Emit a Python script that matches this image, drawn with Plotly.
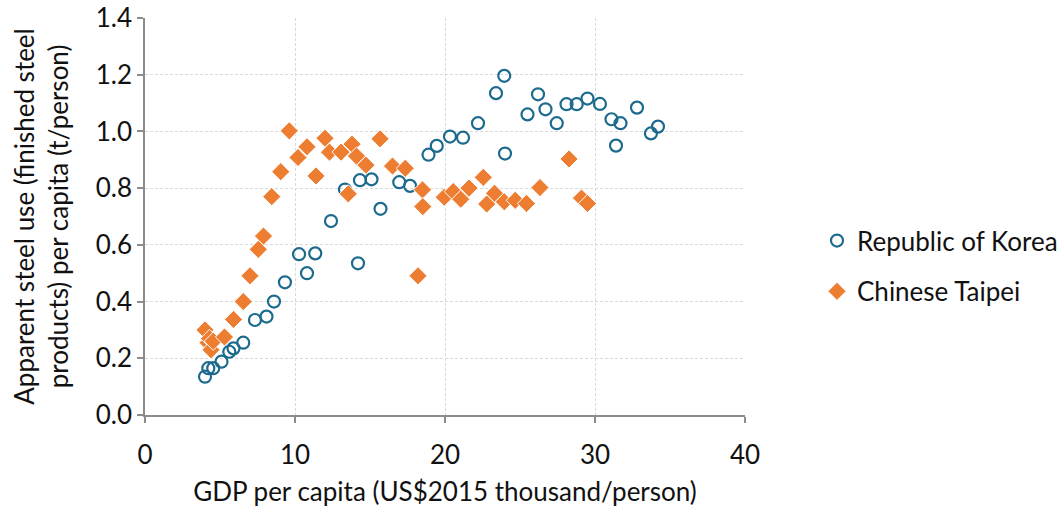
import plotly.graph_objects as go

# GDP per capita (US$2015 thousand/person) vs apparent steel use per capita (t/person)
korea_gdp = [4.0, 4.22, 4.55, 5.1, 5.62, 5.9, 6.55, 7.33, 8.1, 8.6, 9.33, 10.27, 10.8,
             11.35, 12.4, 13.33, 14.2, 14.33, 15.1, 15.7, 16.95, 17.67, 18.9, 19.45,
             20.33, 21.2, 22.2, 23.4, 23.95, 24.0, 25.5, 26.2, 26.7, 27.45, 28.1, 28.78,
             29.5, 30.33, 31.1, 31.4, 31.7, 32.8, 33.73, 34.2]
korea_steel = [0.135, 0.165, 0.165, 0.188, 0.223, 0.235, 0.255, 0.335, 0.347, 0.40, 0.468,
               0.567, 0.50, 0.57, 0.684, 0.795, 0.535, 0.828, 0.831, 0.727, 0.821, 0.808,
               0.918, 0.949, 0.982, 0.978, 1.029, 1.135, 1.196, 0.922, 1.06, 1.131, 1.078,
               1.029, 1.096, 1.096, 1.116, 1.097, 1.043, 0.95, 1.029, 1.084, 0.993, 1.017]

taipei_gdp = [4.0, 4.2, 4.3, 4.4, 4.55, 5.3, 5.9, 6.55, 7.0, 7.55, 7.9, 8.45, 9.05, 9.62,
              10.2, 10.8, 11.4, 12.0, 12.3, 13.07, 13.55, 13.8, 14.1, 14.73, 15.67, 16.5,
              17.35, 18.2, 18.5, 18.52, 19.95, 20.55, 21.05, 21.6, 22.55, 22.78, 23.3,
              23.95, 24.68, 25.43, 26.33, 28.27, 29.1, 29.5]
taipei_steel = [0.30, 0.255, 0.27, 0.23, 0.26, 0.275, 0.337, 0.40, 0.491, 0.584, 0.631, 0.77,
                0.858, 1.002, 0.908, 0.946, 0.843, 0.976, 0.927, 0.927, 0.78, 0.955, 0.913,
                0.881, 0.974, 0.878, 0.87, 0.491, 0.794, 0.735, 0.768, 0.788, 0.761, 0.80,
                0.838, 0.744, 0.782, 0.752, 0.757, 0.746, 0.802, 0.903, 0.765, 0.746]

FONT = "Lato, Carlito, Calibri, sans-serif"
TEXT = "#111111"
FS = 26
AXIS_GREY = "#8c8c8c"
GRID_GREY = "#d9d9d9"

fig = go.Figure()
fig.add_trace(go.Scatter(
    x=korea_gdp, y=korea_steel, mode="markers", name="Republic of Korea",
    legendgroup="korea",
    marker=dict(symbol="circle-open", size=12, color="#1c6a8e",
                line=dict(width=2.2, color="#1c6a8e")),
))
fig.add_trace(go.Scatter(
    x=taipei_gdp, y=taipei_steel, mode="markers", name="Chinese Taipei",
    legendgroup="taipei",
    marker=dict(symbol="diamond", size=14, color="#ed7d31",
                line=dict(width=1, color="white")),
))

fig.update_xaxes(
    range=[0, 40], dtick=10, tick0=0,
    showline=True, linecolor=AXIS_GREY, linewidth=1.5,
    ticks="outside", ticklen=6, tickcolor=AXIS_GREY, tickwidth=1.5,
    ticklabelstandoff=10,
    showgrid=True, gridcolor=GRID_GREY, griddash="3px,2px", gridwidth=1,
    zeroline=False,
    tickfont=dict(family=FONT, size=FS, color=TEXT),
    title=dict(text="GDP per capita (US$2015 thousand/person)",
               font=dict(family=FONT, size=FS, color=TEXT), standoff=14),
)
fig.update_yaxes(
    range=[0, 1.4], dtick=0.2, tick0=0, tickformat=".1f",
    showline=True, linecolor=AXIS_GREY, linewidth=1.5,
    ticks="outside", ticklen=6, tickcolor=AXIS_GREY, tickwidth=1.5,
    showgrid=True, gridcolor=GRID_GREY, griddash="3px,2px", gridwidth=1,
    zeroline=False,
    tickfont=dict(family=FONT, size=FS, color=TEXT),
    title=dict(text="Apparent steel use (finished steel<br>products) per capita (t/person)",
               font=dict(family=FONT, size=FS, color=TEXT), standoff=20),
)

fig.update_layout(
    width=1062, height=511,
    margin=dict(l=145, r=317, t=18, b=96, autoexpand=False),
    paper_bgcolor="white", plot_bgcolor="white",
    font=dict(family=FONT, size=FS, color=TEXT),
    legend=dict(x=1.12, y=0.375, xanchor="left", yanchor="middle",
                font=dict(family=FONT, size=FS, color=TEXT),
                itemwidth=30, tracegroupgap=14, traceorder="grouped",
                bgcolor="rgba(0,0,0,0)"),
)

fig.write_html("out.html")
